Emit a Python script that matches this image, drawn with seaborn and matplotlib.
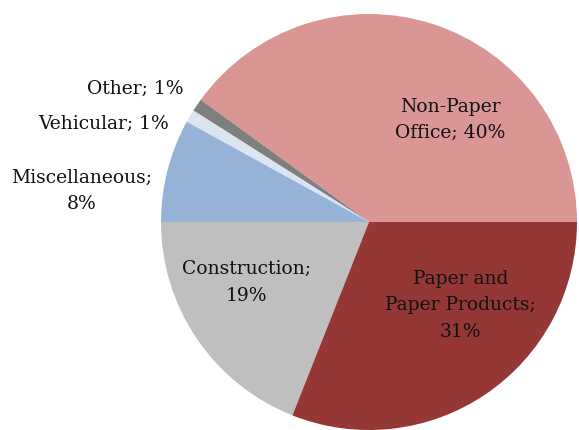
import seaborn as sns
import matplotlib.pyplot as plt

sns.set_theme(style='white')
plt.rcParams['font.family'] = ['DejaVu Serif']

# slice data, counter-clockwise from 3 o'clock
categories = ['Non-Paper\nOffice', 'Other', 'Vehicular', 'Miscellaneous',
              'Construction', 'Paper and\nPaper Products']
shares = [40, 1, 1, 8, 19, 31]
colors = ['#D99694', '#7F7F7F', '#DBE5F1', '#95B3D7', '#BFBFBF', '#953735']

# label placement (in pie radius units) and alignment
label_pos = [(0.39, 0.49), (-0.89, 0.64), (-0.96, 0.47), (-1.38, 0.15),
             (-0.59, -0.29), (0.44, -0.40)]
label_ha = ['center', 'right', 'right', 'center', 'center', 'center']

fig = plt.figure(figsize=(5.79, 4.30), dpi=100)
ax = fig.add_axes([161 / 579, 0, 416 / 579, 416 / 430])
ax.pie(shares, colors=colors, startangle=0, counterclock=True,
       wedgeprops=dict(linewidth=0))
ax.set_xlim(-1, 1)
ax.set_ylim(-1, 1)
ax.set_aspect('equal')
ax.axis('off')

for name, val, (x, y), ha in zip(categories, shares, label_pos, label_ha):
    if name in ('Other', 'Vehicular', 'Non-Paper\nOffice'):
        txt = f'{name}; {val}%'
    else:
        txt = f'{name};\n{val}%'
    ax.text(x, y, txt, ha=ha, va='center', fontsize=13.5,
            linespacing=1.6, color='#111111')

fig.savefig('out.png', dpi=100)
